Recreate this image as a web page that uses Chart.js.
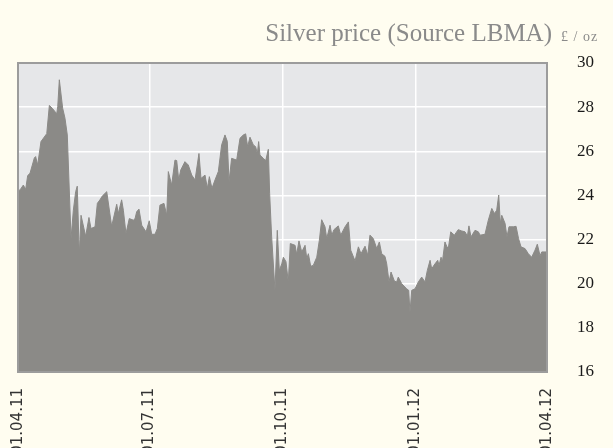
<!DOCTYPE html>
<html>
<head>
<meta charset="utf-8">
<script src="https://cdn.jsdelivr.net/npm/chart.js@4.4.0/dist/chart.umd.min.js"></script>
<style>
    html, body { margin: 0; padding: 0; background: #fffdf0; }
    #wrap { width: 613px; height: 448px; }
</style>
</head>
<body>
<div id="wrap"><canvas id="silverChart" width="613" height="448"></canvas></div>
<script>
// days since 01.04.11
const days = [0, 1.4, 3.7, 5.3, 6.7, 8.3, 11.3, 12.2, 13.6, 15.9, 19.9, 21.7, 23.7, 26.8, 27.5, 28.6, 30.9, 32.5, 34.1, 36.7,
    38.3, 39.9, 41.0, 42.4, 43.6, 46.8, 49.1, 50.5, 53.3, 54.9, 56.7, 58.3, 61.4, 64.8, 68.3, 69.4, 71.7, 72.9, 74.7, 77.0,
    79.8, 81.0, 82.1, 83.7, 85.6, 88.6, 90.8, 92.5, 94.8, 96.4, 98.2, 101.0, 102.9, 104.0, 106.3, 108.6, 109.8, 111.2, 112.6, 115.5,
    117.8, 120.2, 122.5, 125.2, 126.6, 129.4, 131.0, 132.4, 134.2, 136.3, 138.6, 140.9, 143.2, 144.8, 146.0, 147.8, 151.3, 153.6, 155.9, 157.5,
    158.9, 160.5, 162.8, 164.4, 165.6, 166.5, 167.4, 169.7, 171.4, 173.2, 174.1, 175.5, 177.8, 179.4, 180.8, 182.5, 183.6, 185.4, 187.0, 188.4,
    191.7, 192.8, 194.4, 196.3, 198.6, 199.8, 200.9, 202.5, 204.3, 206.7, 208.5, 210.1, 212.4, 213.6, 215.9, 217.1, 218.6, 221.6, 223.3, 226.3,
    228.6, 230.2, 233.2, 235.5, 237.3, 240.1, 242.0, 243.5, 245.8, 248.2, 250.0, 251.6, 253.9, 255.1, 256.7, 258.1, 260.4, 262.0, 263.1, 265.5,
    268.9, 270.3, 271.2, 272.4, 274.7, 277.0, 279.3, 281.6, 283.2, 285.1, 286.2, 288.5, 290.4, 291.3, 292.7, 293.6, 295.4, 296.6, 297.7, 299.4,
    301.9, 304.6, 307.0, 309.3, 310.9, 312.0, 313.4, 316.2, 318.5, 319.7, 323.1, 325.4, 327.8, 329.6, 331.2, 332.6, 333.7, 334.7, 337.0, 338.3,
    339.7, 342.7, 344.6, 346.3, 348.0, 350.8, 353.1, 355.4, 357.7, 359.3, 361.2, 362.4, 364.6, 366];

// £ per oz
const prices = [24.2, 24.25, 24.47, 24.27, 24.9, 25.0, 25.7, 25.76, 25.38, 26.44, 26.8, 28.08, 27.95, 27.7, 28.03, 29.24, 27.95, 27.5, 26.74, 22.05,
    23.33, 24.17, 24.42, 21.29, 23.1, 22.15, 23.0, 22.5, 22.58, 23.64, 23.8, 23.97, 24.17, 22.6, 23.6, 23.18, 23.8, 23.33, 22.27, 22.95,
    22.88, 22.95, 23.26, 23.38, 22.65, 22.35, 22.85, 22.24, 22.24, 22.5, 23.56, 23.64, 23.1, 25.08, 24.47, 25.6, 25.58, 24.7, 25.15, 25.53,
    25.38, 24.92, 24.7, 25.9, 24.77, 24.92, 24.32, 24.85, 24.32, 24.7, 25.08, 26.29, 26.74, 26.45, 24.62, 25.68, 25.6, 26.59, 26.74, 26.79,
    26.21, 26.64, 26.29, 26.21, 25.9, 26.44, 25.83, 25.68, 25.58, 26.09, 24.1, 22.12, 19.7, 22.42, 20.6, 20.9, 21.2, 21.0, 20.08, 21.82,
    21.74, 21.33, 21.94, 21.44, 21.74, 21.14, 21.36, 20.79, 20.83, 21.2, 21.97, 22.9, 22.58, 22.05, 22.65, 22.2, 22.45, 22.62, 22.2, 22.58,
    22.8, 21.52, 21.03, 21.67, 21.36, 21.7, 21.29, 22.2, 22.05, 21.59, 21.89, 21.36, 21.24, 20.9, 20.08, 20.53, 20.12, 20.08, 20.3, 20.0,
    19.77, 19.7, 18.7, 19.7, 19.77, 20.08, 20.3, 20.08, 20.6, 21.06, 20.68, 20.9, 21.06, 20.83, 21.2, 20.98, 21.89, 21.7, 21.59, 22.35,
    22.2, 22.45, 22.39, 22.35, 22.15, 22.62, 22.12, 22.42, 22.35, 22.2, 22.24, 22.88, 23.41, 23.18, 23.33, 24.02, 22.73, 23.1, 22.73, 22.12,
    22.58, 22.58, 22.6, 22.05, 21.67, 21.59, 21.36, 21.2, 21.52, 21.79, 21.27, 21.44, 21.44, 21.44];

const tickDays = [0, 91, 183, 275, 366];
const tickLabels = ['01.04.11', '01.07.11', '01.10.11', '01.01.12', '01.04.12'];
const titleText = 'Silver price (Source LBMA)';
const unitText = '£ / oz';

const framePlugin = {
    id: 'frame',
    beforeDraw(chart) {
        const { ctx, chartArea: a } = chart;
        ctx.save();
        ctx.fillStyle = '#fffdf0';
        ctx.fillRect(0, 0, chart.width, chart.height);
        ctx.fillStyle = '#e6e7e9';
        ctx.fillRect(a.left, a.top, a.right - a.left, a.bottom - a.top);
        ctx.restore();
    },
    afterDraw(chart) {
        const { ctx, chartArea: a } = chart;
        ctx.save();
        ctx.strokeStyle = '#9c9c9c';
        ctx.lineWidth = 2;
        ctx.strokeRect(a.left, a.top, a.right - a.left, a.bottom - a.top);

        ctx.fillStyle = '#8a8a8a';
        ctx.textBaseline = 'alphabetic';
        ctx.textAlign = 'right';
        ctx.font = '25px "Liberation Serif"';
        ctx.fillText(titleText, 552, 41);
        ctx.textAlign = 'left';
        ctx.font = '14px "Liberation Serif"';
        ctx.letterSpacing = '1px';
        ctx.fillText(unitText, 561, 41);
        ctx.restore();
    }
};

const ctx = document.getElementById('silverChart').getContext('2d');
const chart = new Chart(ctx, {
    type: 'line',
    data: {
        datasets: [{
            label: 'Silver',
            data: days.map((d, i) => ({ x: d, y: prices[i] })),
            fill: 'start',
            backgroundColor: '#8b8a87',
            borderColor: '#8b8a87',
            borderWidth: 1,
            pointRadius: 0,
            tension: 0
        }]
    },
    options: {
        responsive: false,
        animation: false,
        layout: {
            padding: { left: 18, top: 63, right: 0, bottom: 0 }
        },
        scales: {
            x: {
                type: 'linear',
                min: 0,
                max: 366,
                z: 1,
                afterBuildTicks: scale => {
                    scale.ticks = tickDays.map(v => ({ value: v }));
                },
                afterFit: scale => { scale.height = 76; },
                grid: { color: '#ffffff', lineWidth: 1.5, drawTicks: false },
                border: { display: false },
                ticks: {
                    autoSkip: false,
                    minRotation: 90,
                    maxRotation: 90,
                    padding: 16,
                    color: '#333333',
                    font: { family: 'DejaVu Sans', size: 15 },
                    callback: (value, index) => tickLabels[index]
                }
            },
            y: {
                position: 'right',
                min: 16,
                max: 30,
                z: 1,
                afterFit: scale => { scale.width = 66; },
                grid: { color: '#ffffff', lineWidth: 1.5, drawTicks: false },
                border: { display: false },
                ticks: {
                    stepSize: 2,
                    padding: 30,
                    color: '#1a1a1a',
                    font: { family: 'Liberation Serif', size: 17 }
                }
            }
        },
        plugins: {
            legend: { display: false },
            tooltip: { enabled: false }
        }
    },
    plugins: [framePlugin]
});
</script>
</body>
</html>
